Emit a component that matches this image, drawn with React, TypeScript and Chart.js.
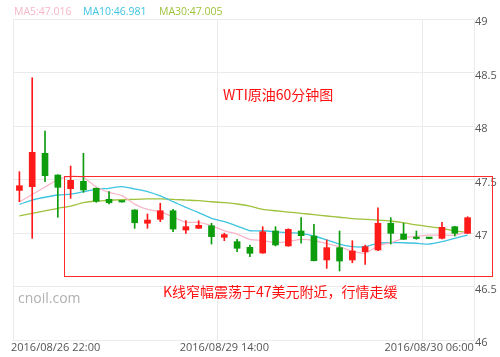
import React, { useEffect, useRef } from 'react';
import { Chart, registerables } from 'chart.js';

Chart.register(...registerables);

// ---- data ----
const categories = [
  '2016/08/26 22:00', '2016/08/26 23:00', '2016/08/27 00:00', '2016/08/27 01:00',
  '2016/08/27 02:00', '2016/08/27 03:00', '2016/08/27 04:00', '2016/08/27 05:00',
  '2016/08/29 06:00', '2016/08/29 07:00', '2016/08/29 08:00', '2016/08/29 09:00',
  '2016/08/29 10:00', '2016/08/29 11:00', '2016/08/29 12:00', '2016/08/29 13:00',
  '2016/08/29 14:00', '2016/08/29 15:00', '2016/08/29 16:00', '2016/08/29 17:00',
  '2016/08/29 18:00', '2016/08/29 19:00', '2016/08/29 20:00', '2016/08/29 21:00',
  '2016/08/29 22:00', '2016/08/29 23:00', '2016/08/30 00:00', '2016/08/30 01:00',
  '2016/08/30 02:00', '2016/08/30 03:00', '2016/08/30 04:00', '2016/08/30 05:00',
  '2016/08/30 06:00', '2016/08/30 07:00', '2016/08/30 08:00', '2016/08/30 09:00',
];

const opens = [47.398, 47.433, 47.745, 47.542, 47.414, 47.483, 47.418, 47.315, 47.295, 47.215, 47.091, 47.128, 47.208, 47.028, 47.044, 47.068, 46.960, 46.919, 46.866, 46.813, 47.019, 46.879, 47.019, 46.972, 46.748, 46.863, 46.748, 46.825, 46.841, 47.091, 46.991, 46.953, 46.952, 46.950, 47.059, 46.997];
const closes = [47.442, 47.754, 47.536, 47.427, 47.492, 47.402, 47.296, 47.283, 47.290, 47.096, 47.121, 47.208, 47.037, 47.059, 47.072, 46.966, 46.985, 46.857, 46.810, 47.012, 46.888, 47.034, 46.975, 46.741, 46.863, 46.738, 46.832, 46.872, 47.091, 46.997, 46.941, 46.948, 46.948, 47.053, 46.997, 47.143];
const highs = [47.573, 48.451, 47.953, 47.545, 47.626, 47.745, 47.420, 47.386, 47.297, 47.218, 47.178, 47.278, 47.221, 47.115, 47.115, 47.091, 46.998, 46.941, 46.888, 47.059, 47.059, 47.040, 47.143, 47.081, 46.935, 47.019, 46.928, 46.888, 47.236, 47.143, 47.091, 47.019, 46.952, 47.100, 47.062, 47.152];
const lows = [47.293, 46.950, 47.479, 47.147, 47.324, 47.380, 47.287, 47.271, 47.288, 47.044, 47.044, 47.106, 47.012, 46.995, 47.040, 46.897, 46.928, 46.825, 46.779, 46.810, 46.879, 46.875, 46.904, 46.740, 46.670, 46.645, 46.722, 46.707, 46.835, 46.897, 46.940, 46.941, 46.946, 46.945, 46.972, 46.995];

const ma5 = [47.29, 47.36, 47.43, 47.50, 47.53, 47.52, 47.43, 47.38, 47.35, 47.27, 47.22, 47.20, 47.15, 47.10, 47.10, 47.07, 47.02, 46.99, 46.94, 46.93, 46.91, 46.92, 46.94, 46.93, 46.90, 46.87, 46.83, 46.81, 46.88, 46.91, 46.95, 46.97, 46.98, 46.98, 46.98, 47.016];
const ma10 = [47.268, 47.308, 47.334, 47.355, 47.364, 47.386, 47.408, 47.418, 47.433, 47.411, 47.386, 47.346, 47.293, 47.240, 47.190, 47.137, 47.106, 47.065, 47.021, 47.021, 47.012, 47.002, 46.997, 46.972, 46.935, 46.897, 46.872, 46.872, 46.904, 46.909, 46.909, 46.904, 46.897, 46.919, 46.950, 46.981];
const ma30 = [47.159, 47.184, 47.206, 47.231, 47.252, 47.283, 47.299, 47.306, 47.311, 47.315, 47.318, 47.318, 47.315, 47.308, 47.302, 47.292, 47.283, 47.271, 47.252, 47.221, 47.208, 47.196, 47.184, 47.171, 47.159, 47.147, 47.134, 47.128, 47.121, 47.112, 47.096, 47.075, 47.059, 47.044, 47.019, 47.005];

const yTicks = ['46', '46.5', '47', '47.5', '48', '48.5', '49'];
const legendItems = ['MA5:47.016', 'MA10:46.981', 'MA30:47.005'];
const titleText = 'WTI原油60分钟图';
const noteText = 'K线窄幅震荡于47美元附近，行情走缓';
const watermark = 'cnoil.com';

// ---- styles ----
const RED = '#ff1a1a';
const GREEN = '#0c9c0c';
const PINK = '#f8b6c8';
const CYAN = '#3ec4e0';
const OLIVE = '#9ec23c';
const GRID = '#ebebeb';
const LABEL = '#555555';
const LATIN = '"Open Sans", "Noto Sans", sans-serif';
const CJK = '"Noto Sans CJK SC", "Noto Sans", sans-serif';

const candleColors = opens.map((o, i) => (closes[i] >= o ? RED : GREEN));

const overlayPlugin = {
  id: 'overlay',
  beforeDatasetsDraw(chart: any) {
    const { ctx, chartArea } = chart;
    ctx.save();
    ctx.font = '14px ' + LATIN;
    ctx.fillStyle = '#b0b0b0';
    ctx.textBaseline = 'middle';
    ctx.textAlign = 'left';
    ctx.fillText(watermark, chartArea.left + 5, 299);
    ctx.restore();
  },
  afterDraw(chart: any) {
    const { ctx, chartArea, scales } = chart;
    const xs = scales.x;
    const ys = scales.y;
    ctx.save();
    // x-axis labels
    ctx.font = '11px ' + LATIN;
    ctx.fillStyle = LABEL;
    ctx.textBaseline = 'middle';
    ctx.textAlign = 'left';
    categories.forEach((c, i) => {
      if (i % 16 !== 0) return;
      const w = ctx.measureText(c).width;
      let left = xs.getPixelForValue(i) - w / 2;
      left = Math.max(left, chartArea.left - 2);
      ctx.fillText(c, left, chartArea.bottom + 8);
    });
    // legend
    ctx.font = '10.5px ' + LATIN;
    const legendColors = [PINK, CYAN, OLIVE];
    const legendX = [14, 83, 159];
    legendItems.forEach((t, i) => {
      ctx.fillStyle = legendColors[i];
      ctx.fillText(t, legendX[i], 12);
    });
    // annotation box
    const l = Math.round(xs.getPixelForValue(3.5)) + 0.5;
    const r = Math.round(chartArea.right + 18) + 0.5;
    const t = Math.round(ys.getPixelForValue(47.53)) + 0.5;
    const b = Math.round(ys.getPixelForValue(46.6)) + 0.5;
    ctx.strokeStyle = '#ff2a2a';
    ctx.lineWidth = 1;
    ctx.strokeRect(l, t, r - l, b - t);
    // annotation texts
    ctx.font = '14px ' + CJK;
    ctx.fillStyle = '#ff1010';
    ctx.fillText(titleText, 223, 95);
    ctx.fillText(noteText, 163, 292);
    ctx.restore();
  },
};

export default function App() {
  const ref = useRef<HTMLCanvasElement | null>(null);

  useEffect(() => {
    if (!ref.current) return;
    const chart = new Chart(ref.current, {
      type: 'bar',
      data: {
        labels: categories,
        datasets: [
          {
            type: 'bar',
            label: 'body',
            data: opens.map((o, i) => [o, closes[i]]) as any,
            backgroundColor: candleColors,
            barThickness: 6,
            minBarLength: 1.5,
            borderWidth: 0,
            grouped: false,
            order: 1,
          } as any,
          {
            type: 'bar',
            label: 'wick',
            data: lows.map((lo, i) => [lo, highs[i]]) as any,
            backgroundColor: candleColors,
            barThickness: 1,
            borderWidth: 0,
            grouped: false,
            order: 2,
          } as any,
          {
            type: 'line',
            label: 'MA5',
            data: ma5,
            borderColor: PINK,
            borderWidth: 1.3,
            pointRadius: 0,
            tension: 0.2,
            order: 3,
          } as any,
          {
            type: 'line',
            label: 'MA10',
            data: ma10,
            borderColor: CYAN,
            borderWidth: 1.3,
            pointRadius: 0,
            tension: 0.2,
            order: 4,
          } as any,
          {
            type: 'line',
            label: 'MA30',
            data: ma30,
            borderColor: OLIVE,
            borderWidth: 1.3,
            pointRadius: 0,
            tension: 0.2,
            order: 5,
          } as any,
        ],
      },
      options: {
        responsive: false,
        animation: false,
        devicePixelRatio: 1,
        events: [],
        layout: { padding: { left: 13, right: 0, top: 19, bottom: 17 } },
        plugins: {
          legend: { display: false },
          tooltip: { enabled: false },
          title: { display: false },
        },
        scales: {
          x: {
            type: 'category',
            offset: true,
            grid: {
              offset: true,
              drawTicks: false,
              color: (ctx: any) => (ctx.index !== undefined && ctx.index % 16 === 0 ? GRID : 'rgba(0,0,0,0)'),
              lineWidth: 1,
            },
            border: { display: true, color: GRID },
            ticks: { display: false },
            afterFit: (s: any) => { s.height = 0; },
          },
          y: {
            position: 'right',
            min: 46,
            max: 49,
            grid: { color: GRID, drawTicks: false, lineWidth: 1 },
            border: { display: true, color: GRID },
            ticks: {
              stepSize: 0.5,
              padding: 1,
              labelOffset: 3,
              color: LABEL,
              font: { family: LATIN, size: 11 },
              callback: (_v: any, i: number) => yTicks[i],
            },
            afterFit: (s: any) => { s.width = 26; },
          },
        },
      } as any,
      plugins: [overlayPlugin],
    });
    return () => chart.destroy();
  }, []);

  return (
    <div style={{ position: 'absolute', left: 0, top: 0, width: 500, height: 357, background: '#fff' }}>
      <canvas ref={ref} width={500} height={357} style={{ display: 'block' }} />
    </div>
  );
}
